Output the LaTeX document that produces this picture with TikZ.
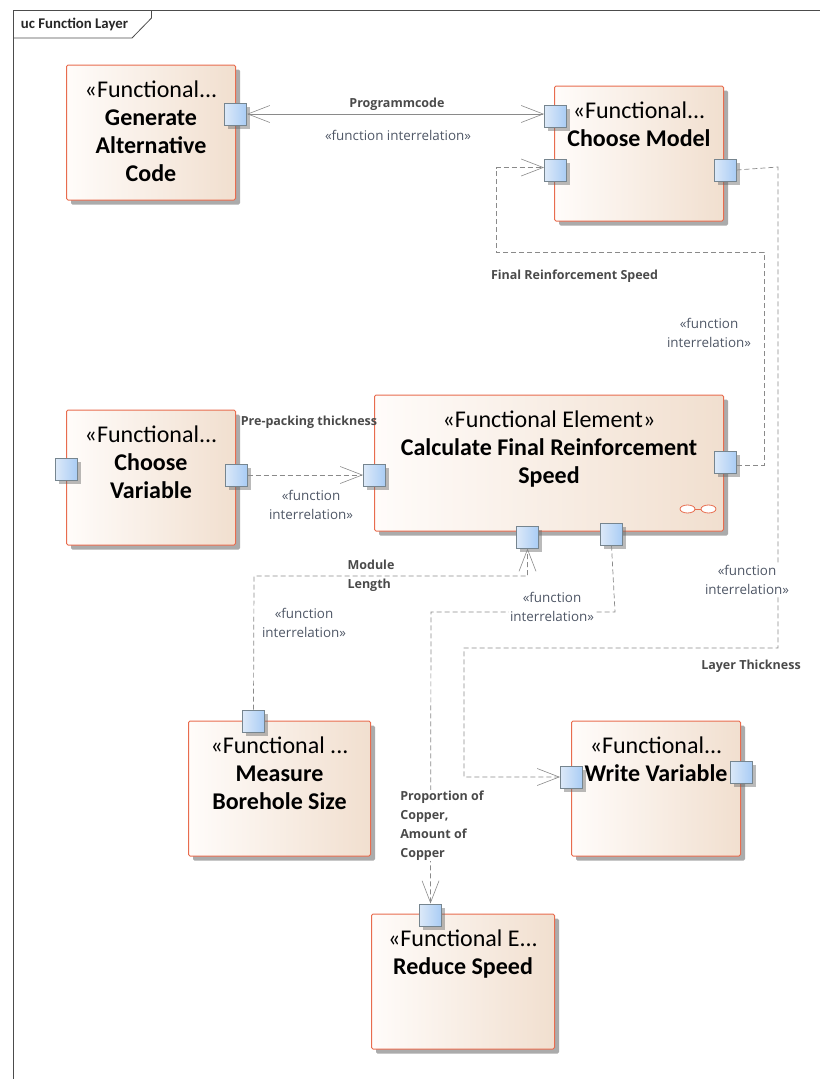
\documentclass[tikz,border=0pt]{standalone}
\usepackage{fontspec}
\setmainfont{Carlito}
\newfontfamily\tagfont{Open Sans}
\usetikzlibrary{arrows.meta,positioning,shadows,shapes.geometric}
\definecolor{elemline}{HTML}{E86C4E}
\definecolor{elemleft}{HTML}{FFFCFA}
\definecolor{elemright}{HTML}{F1DFCF}
\definecolor{portline}{HTML}{76858F}
\definecolor{portleft}{HTML}{DCE9F8}
\definecolor{portright}{HTML}{A9CCF5}
\definecolor{flowline}{HTML}{8A8A8A}
\definecolor{tagtext}{HTML}{4F5766}
\definecolor{nametext}{HTML}{4A4A4A}
\begin{document}
\begin{tikzpicture}[x=1pt,y=-1pt,
		element/.style={draw=elemline,line width=1pt,rounded corners=1.5pt,left color=elemleft,right color=elemright,
			inner sep=0pt,drop shadow={shadow xshift=4.5pt,shadow yshift=-4.5pt,fill=black!60,opacity=.55}},
		port/.style={draw=portline,line width=1pt,left color=portleft,right color=portright,minimum size=22pt,inner sep=0pt,
			drop shadow={shadow xshift=3.5pt,shadow yshift=-3.5pt,fill=black!60,opacity=.45}},
		heading/.style={align=center,inner sep=0pt,font=\fontsize{24}{28}\selectfont},
		flow/.style={draw=flowline,line width=.7pt,dashed,dash pattern=on 5pt off 3pt},
		tip/.style={arrows={-Straight Barb[length=22pt,width=17pt,line width=.6pt,flowline]}},
		tag/.style={align=center,inner sep=1pt,text=tagtext,font=\tagfont\fontsize{13.4}{19}\selectfont},
		flowname/.style={align=left,inner sep=1pt,text=nametext,font=\tagfont\bfseries\fontsize{12.5}{19}\selectfont},
		linkdot/.style={ellipse,draw=elemline,fill=white,line width=.8pt,minimum width=15pt,minimum height=8pt,inner sep=0pt}]
	\useasboundingbox (0,0) rectangle (820,1079);
	\coordinate (Fo) at (13,1079);
	\coordinate (Fr) at (820,10);
	\draw[black!70,line width=.8pt] (Fo) -- (13,10) -- (Fr);
	\node (Fn) at (74.5,24) [font=\bfseries\fontsize{14.8}{16}\selectfont,text=black!85,inner sep=0pt] {uc Function Layer};
	\draw[black!70,line width=.8pt] (151.5,10) -- (151.5,18) -- (132,38) -- (13,38);

	\node (Ge) at (151,132.5) [element,minimum width=169pt,minimum height=135pt] {};
	\node (Ch) at (639,153.5) [element,minimum width=169pt,minimum height=135pt] {};
	\node (Va) at (151,477.5) [element,minimum width=169pt,minimum height=135pt] {};
	\node (Ca) at (549,463) [element,minimum width=349pt,minimum height=136pt] {};
	\node (Me) at (279.5,788.5) [element,minimum width=182pt,minimum height=135pt] {};
	\node (Wr) at (656,788.5) [element,minimum width=169pt,minimum height=135pt] {};
	\node (Re) at (463,981.5) [element,minimum width=183pt,minimum height=135pt] {};

	\node (Get) [heading,below=16pt of Ge.north] {«Functional...\\\textbf{Generate}\\\textbf{Alternative}\\\textbf{Code}};
	\node (Cht) [heading,below=16pt of Ch.north] {«Functional...\\\textbf{Choose Model}};
	\node (Vat) [heading,below=16pt of Va.north] {«Functional...\\\textbf{Choose}\\\textbf{Variable}};
	\node (Cat) [heading,below=16pt of Ca.north] {«Functional Element»\\\textbf{Calculate Final Reinforcement}\\\textbf{Speed}};
	\node (Met) [heading,below=16pt of Me.north] {«Functional ...\\\textbf{Measure}\\\textbf{Borehole Size}};
	\node (Wrt) [heading,below=16pt of Wr.north] {«Functional...\\\textbf{Write Variable}};
	\node (Ret) [heading,below=16pt of Re.north] {«Functional E...\\\textbf{Reduce Speed}};

	\node (La) at (687.5,509) [linkdot] {};
	\node (Lb) at (708.5,509) [linkdot] {};
	\draw[elemline,line width=.8pt] (La) -- (Lb);

	\node (GeE) at (235.5,114) [port] {};
	\node (ChA) at (555.5,116) [port] {};
	\node (ChB) at (555.5,170) [port] {};
	\node (ChC) at (725,170) [port] {};
	\node (VaW) at (66.5,469) [port] {};
	\node (VaE) at (236,475) [port] {};
	\node (CaW) at (374.5,475) [port] {};
	\node (CaE) at (725.5,462) [port] {};
	\node (CaA) at (527.5,537) [port] {};
	\node (CaB) at (611.5,534) [port] {};
	\node (MeN) at (253.5,721) [port] {};
	\node (WrW) at (571.5,777) [port] {};
	\node (WrE) at (741,772) [port] {};
	\node (ReN) at (430.5,915) [port] {};

	\draw[flowline,line width=.7pt,arrows={Straight Barb[length=22pt,width=17pt,line width=.6pt,flowline]-Straight Barb[length=22pt,width=17pt,line width=.6pt,flowline]}] (GeE.east) -- (GeE.east -| ChA.west);
	\draw[flow,tip] (VaE.east) -- (CaW.west);
	\draw[flow,tip] ([yshift=-3pt]CaE.east) -- (764,465) -- (764,252) -- (496,252) -- (496,167.5) -- ([yshift=2.5pt]ChB.west);
	\draw[flow,tip] (ChC.east) -- (778,167) -- (778,648) -- (464,648) -- (464,777) -- (WrW.west);
	\draw[flow,tip] (MeN.north) -- (254,576) -- (527.5,576) -- (CaA.south);
	\draw[flow,tip] (CaB.south) -- (615,612) -- (431,612) -- (ReN.north);

	\node (Lg) at (397,104) [flowname] {Programmcode};
	\node (Li) at (398,135) [tag] {«function interrelation»};
	\node (Lf) at (574.5,276) [flowname] {Final Reinforcement Speed};
	\node (Lj) at (709,332.5) [tag] {«function\\interrelation»};
	\node (Lp) at (309,422) [flowname,inner sep=0pt] {Pre-packing thickness};
	\node (Lk) at (311,505) [tag] {«function\\interrelation»};
	\node (Lm) at (371,576) [flowname,inner sep=0pt] {Module\\Length};
	\node (Ll) at (304,622.5) [tag] {«function\\interrelation»};
	\node (Ln) at (552,606.5) [tag,fill=white] {«function\\interrelation»};
	\node (Lo) at (747,579.5) [tag,fill=white] {«function\\interrelation»};
	\node (Lt) at (751,666) [flowname] {Layer Thickness};
	\node (Lc) at (442,825.5) [flowname,fill=white] {Proportion of\\Copper,\\Amount of\\Copper};
\end{tikzpicture}
\end{document}
